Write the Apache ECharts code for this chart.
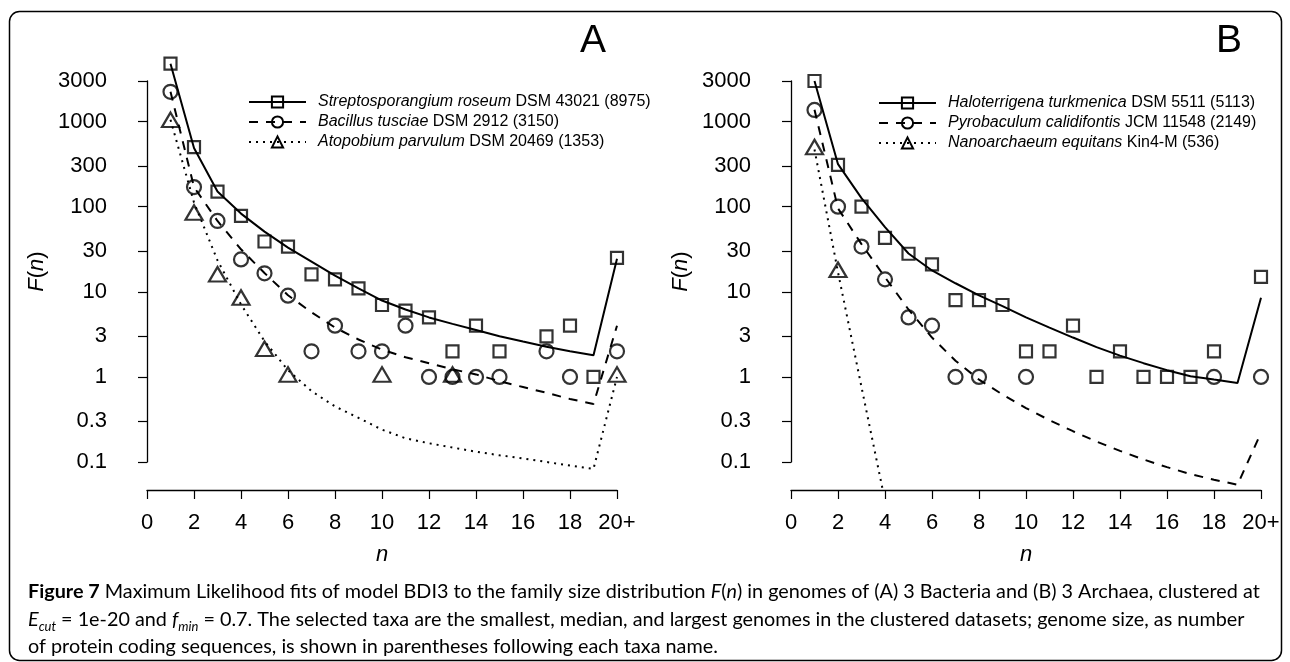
<!DOCTYPE html>
<html><head><meta charset="utf-8">
<script src="https://cdn.jsdelivr.net/npm/echarts@6/dist/echarts.min.js"></script>
<style>html,body{margin:0;padding:0;background:#fff}#c{width:1290px;height:662px}</style>
</head><body><div id="c"></div>
<script>
// ---------------- data ----------------
const N = [1,2,3,4,5,6,7,8,9,10,11,12,13,14,15,16,17,18,19,20];
const X_TICKS = [0,2,4,6,8,10,12,14,16,18,20];
const X_TICK_LABELS = ['0','2','4','6','8','10','12','14','16','18','20+'];
const Y_TICKS = [0.1,0.3,1,3,10,30,100,300,1000,3000];
const Y_TICK_LABELS = ['0.1','0.3','1','3','10','30','100','300','1000','3000'];

// Panel A (Bacteria)
const TAXA_A = ['Streptosporangium roseum','Bacillus tusciae','Atopobium parvulum'];
const STRAIN_A = ['DSM 43021 (8975)','DSM 2912 (3150)','DSM 20469 (1353)'];
const ptsA1 = [4800,500,150,78,39,34,16,14,11,7,6,5,2,4,2,null,3,4,1,25];
const ptsA2 = [2240,170,68,24,16.5,9,2,4,2,2,4,1,1,1,1,null,2,1,null,2];
const ptsA3 = [980,80,15,8,2,1,null,null,null,1,null,null,1,null,null,null,null,null,null,1];
const fitA1 = [4790,490,151,83,51,33,22.6,15.5,11,7.9,6.2,5,4.2,3.55,3,2.6,2.26,2,1.8,24.5];
const fitA2 = [2240,170,68,31.6,16.6,9.1,5.75,3.8,2.75,2.09,1.7,1.45,1.23,1.07,0.89,0.76,0.65,0.55,0.48,4];
const fitA3 = [1050,112,23.4,7.1,2.63,1.2,0.68,0.45,0.33,0.24,0.19,0.166,0.148,0.132,0.12,0.11,0.1,0.091,0.083,1];

// Panel B (Archaea)
const TAXA_B = ['Haloterrigena turkmenica','Pyrobaculum calidifontis','Nanoarchaeum equitans'];
const STRAIN_B = ['DSM 5511 (5113)','JCM 11548 (2149)','Kin4-M (536)'];
const ptsB1 = [3000,310,100,43,28,21,8,8,7,2,2,4,1,2,1,1,1,2,null,15];
const ptsB2 = [1370,100,34,14,5,4,1,1,null,1,null,null,null,null,null,null,null,1,null,1];
const ptsB3 = [470,17,null,null,null,null,null,null,null,null,null,null,null,null,null,null,null,null,null,null];
const fitB1 = [3000,316,126,57.5,28.2,17.8,12.6,9.1,6.8,5,3.8,2.9,2.24,1.78,1.45,1.2,1.02,0.93,0.85,8.5];
const fitB2 = [1380,95.5,36.3,14.8,6.2,2.9,1.55,0.93,0.62,0.43,0.31,0.23,0.174,0.135,0.107,0.087,0.072,0.062,0.054,0.22];
const fitB3 = [470,17,0.76,0.035,0.0016,0.00007];

const CAPTION = [
  '{b|Figure 7} Maximum Likelihood fits of model BDI3 to the family size distribution {i|F}({i|n}) in genomes of (A) 3 Bacteria and (B) 3 Archaea, clustered at',
  '{i|E}{s|cut} = 1e-20 and {i|f}{s|min} = 0.7. The selected taxa are the smallest, median, and largest genomes in the clustered datasets; genome size, as number',
  'of protein coding sequences, is shown in parentheses following each taxa name.'
];

// ---------------- layout ----------------
const FONT = "'Liberation Sans', Arial, Helvetica, sans-serif";
const AX_TOP = 81, AX_BOT = 462;            // y-axis line extent (3000 .. 0.1)
const DATA_TOP = 40, DATA_BOT = 490;         // plotting region
const LOG_MAX = Math.log10(3000), LOG_MIN = -1;
const PX_DEC = (AX_BOT - AX_TOP) / (LOG_MAX - LOG_MIN);
const Y_MAX = LOG_MAX + (AX_TOP - DATA_TOP) / PX_DEC;
const Y_MIN = LOG_MIN - (DATA_BOT - AX_BOT) / PX_DEC;
const Y_TICK_LOGS = Y_TICKS.map(v => Math.log10(v));
const PANELS = [
  {left: 147, legendLeft: 248, legendTop: 92, taxa: TAXA_A, strain: STRAIN_A,
   pts: [ptsA1, ptsA2, ptsA3], fits: [fitA1, fitA2, fitA3], label: 'A', labelX: 593},
  {left: 791, legendLeft: 878, legendTop: 93, taxa: TAXA_B, strain: STRAIN_B,
   pts: [ptsB1, ptsB2, ptsB3], fits: [fitB1, fitB2, fitB3], label: 'B', labelX: 1229}
];
const SYMBOLS = ['rect', 'circle', 'triangle'];
const SYM_SIZE = [12, 14, [17, 14.5]];
const SYM_OFFSET = [[0,0],[0,0],[0,-2.5]];
const LINE_TYPES = ['solid', [9, 8], [2, 5]];
const PLOT_W = 470;

function toLog(arr) {
  return arr.map((v, i) => v == null ? null : [N[i], Math.log10(v)]).filter(d => d);
}
function yLabel(v) {
  for (let k = 0; k < Y_TICK_LOGS.length; k++) if (Math.abs(Y_TICK_LOGS[k] - v) < 1e-6) return Y_TICK_LABELS[k];
  return '';
}

const grid = [], xAxis = [], yAxis = [], series = [], legend = [], graphic = [];
PANELS.forEach((p, pi) => {
  const gData = grid.length;
  grid.push({left: p.left, top: DATA_TOP, width: PLOT_W, height: DATA_BOT - DATA_TOP, containLabel: false, outerBoundsMode: 'none'});
  const gAxis = grid.length;
  grid.push({left: p.left, top: AX_TOP, width: PLOT_W, height: AX_BOT - AX_TOP, containLabel: false, outerBoundsMode: 'none'});

  xAxis.push({
    gridIndex: gData, type: 'value', min: 0, max: 20, interval: 2,
    axisLine: {show: true, onZero: false, lineStyle: {color: '#000', width: 1.3}},
    axisTick: {show: true, inside: false, length: 9, lineStyle: {color: '#000', width: 1.2}},
    axisLabel: {show: true, margin: 22, fontSize: 22, color: '#000', fontFamily: FONT,
      showMinLabel: true, showMaxLabel: true,
      formatter: v => { const k = X_TICKS.indexOf(v); return k < 0 ? '' : X_TICK_LABELS[k]; }},
    splitLine: {show: false},
    name: 'n', nameLocation: 'middle', nameGap: 54,
    nameTextStyle: {fontSize: 22, fontStyle: 'italic', color: '#000', fontFamily: FONT}
  });
  xAxis.push({gridIndex: gAxis, type: 'value', min: 0, max: 20, show: false});

  yAxis.push({gridIndex: gData, type: 'value', min: Y_MIN, max: Y_MAX, show: false});
  yAxis.push({
    gridIndex: gAxis, type: 'value', min: LOG_MIN, max: LOG_MAX, offset: 19,
    axisLine: {show: true, lineStyle: {color: '#000', width: 1.3}},
    axisTick: {show: true, inside: false, length: 9, customValues: Y_TICK_LOGS, lineStyle: {color: '#000', width: 1.2}},
    axisLabel: {show: true, margin: 21, fontSize: 22, color: '#000', fontFamily: FONT,
      customValues: Y_TICK_LOGS, formatter: v => yLabel(v)},
    splitLine: {show: false},
    name: '{i|F}({i|n})', nameLocation: 'middle', nameGap: 80, nameRotate: 90,
    nameTextStyle: {fontSize: 22, color: '#000', fontFamily: FONT,
      rich: {i: {fontSize: 22, fontStyle: 'italic', color: '#000', fontFamily: FONT}}}
  });

  const names = p.taxa.map((t, k) => t + ' ' + p.strain[k]);
  for (let k = 0; k < 3; k++) {
    series.push({
      name: names[k], type: 'line', xAxisIndex: gData, yAxisIndex: gData,
      data: toLog(p.fits[k]), showSymbol: false, symbol: SYMBOLS[k], symbolSize: SYM_SIZE[k],
      smooth: false, clip: true, silent: true, z: 2,
      lineStyle: {color: '#000', width: 2, type: LINE_TYPES[k]},
      itemStyle: {color: 'transparent', borderColor: '#000', borderWidth: 2}
    });
    series.push({
      name: 'pts-' + pi + '-' + k, type: 'scatter', xAxisIndex: gData, yAxisIndex: gData,
      data: toLog(p.pts[k]), symbol: SYMBOLS[k], symbolSize: SYM_SIZE[k], symbolOffset: SYM_OFFSET[k],
      silent: true, z: 3,
      itemStyle: {color: 'transparent', borderColor: '#000', borderWidth: 2.2}
    });
  }
  legend.push({
    data: names, orient: 'vertical', left: p.legendLeft, top: p.legendTop,
    itemWidth: 57, itemHeight: 14, itemGap: 0, selectedMode: false, padding: 0,
    itemStyle: {color: 'transparent', borderColor: '#000', borderWidth: 2},
    textStyle: {fontSize: 16, color: '#000', fontFamily: FONT, lineHeight: 20, padding: [0, 0, 0, 7],
      rich: {i: {fontSize: 16, fontStyle: 'italic', color: '#000', fontFamily: FONT, lineHeight: 20}}},
    formatter: name => { const k = names.indexOf(name); return '{i|' + p.taxa[k] + '} ' + p.strain[k]; }
  });
  graphic.push({type: 'text', x: p.labelX, y: 41, silent: true,
    style: {text: p.label, fontSize: 39, fontFamily: FONT, fill: '#000', align: 'center', verticalAlign: 'middle'}});
});

graphic.push({type: 'rect', silent: true, z: -1,
  shape: {x: 9.5, y: 11.5, width: 1272, height: 649, r: 10},
  style: {fill: 'none', stroke: '#000', lineWidth: 1.5}});
const CAP_FONT = "Lato, 'Open Sans', sans-serif";
const CAP_SIZE = 19.8;
graphic.push({type: 'text', left: 28, top: 578, silent: true,
  style: {text: CAPTION.join('\n'), fontSize: CAP_SIZE, fontFamily: CAP_FONT, fill: '#000', lineHeight: 27.5,
    rich: {
      b: {fontSize: CAP_SIZE, fontWeight: 'bold', fontFamily: CAP_FONT, fill: '#000', lineHeight: 27.5},
      i: {fontSize: CAP_SIZE, fontStyle: 'italic', fontFamily: CAP_FONT, fill: '#000', lineHeight: 27.5},
      s: {fontSize: 13, fontStyle: 'italic', fontFamily: CAP_FONT, fill: '#000', lineHeight: 16, verticalAlign: 'bottom'}
    }}});

const chart = echarts.init(document.getElementById('c'), null, {renderer: 'canvas'});
chart.setOption({
  animation: false, backgroundColor: '#fff',
  textStyle: {fontFamily: FONT},
  grid, xAxis, yAxis, series, legend, graphic
});
</script></body></html>
